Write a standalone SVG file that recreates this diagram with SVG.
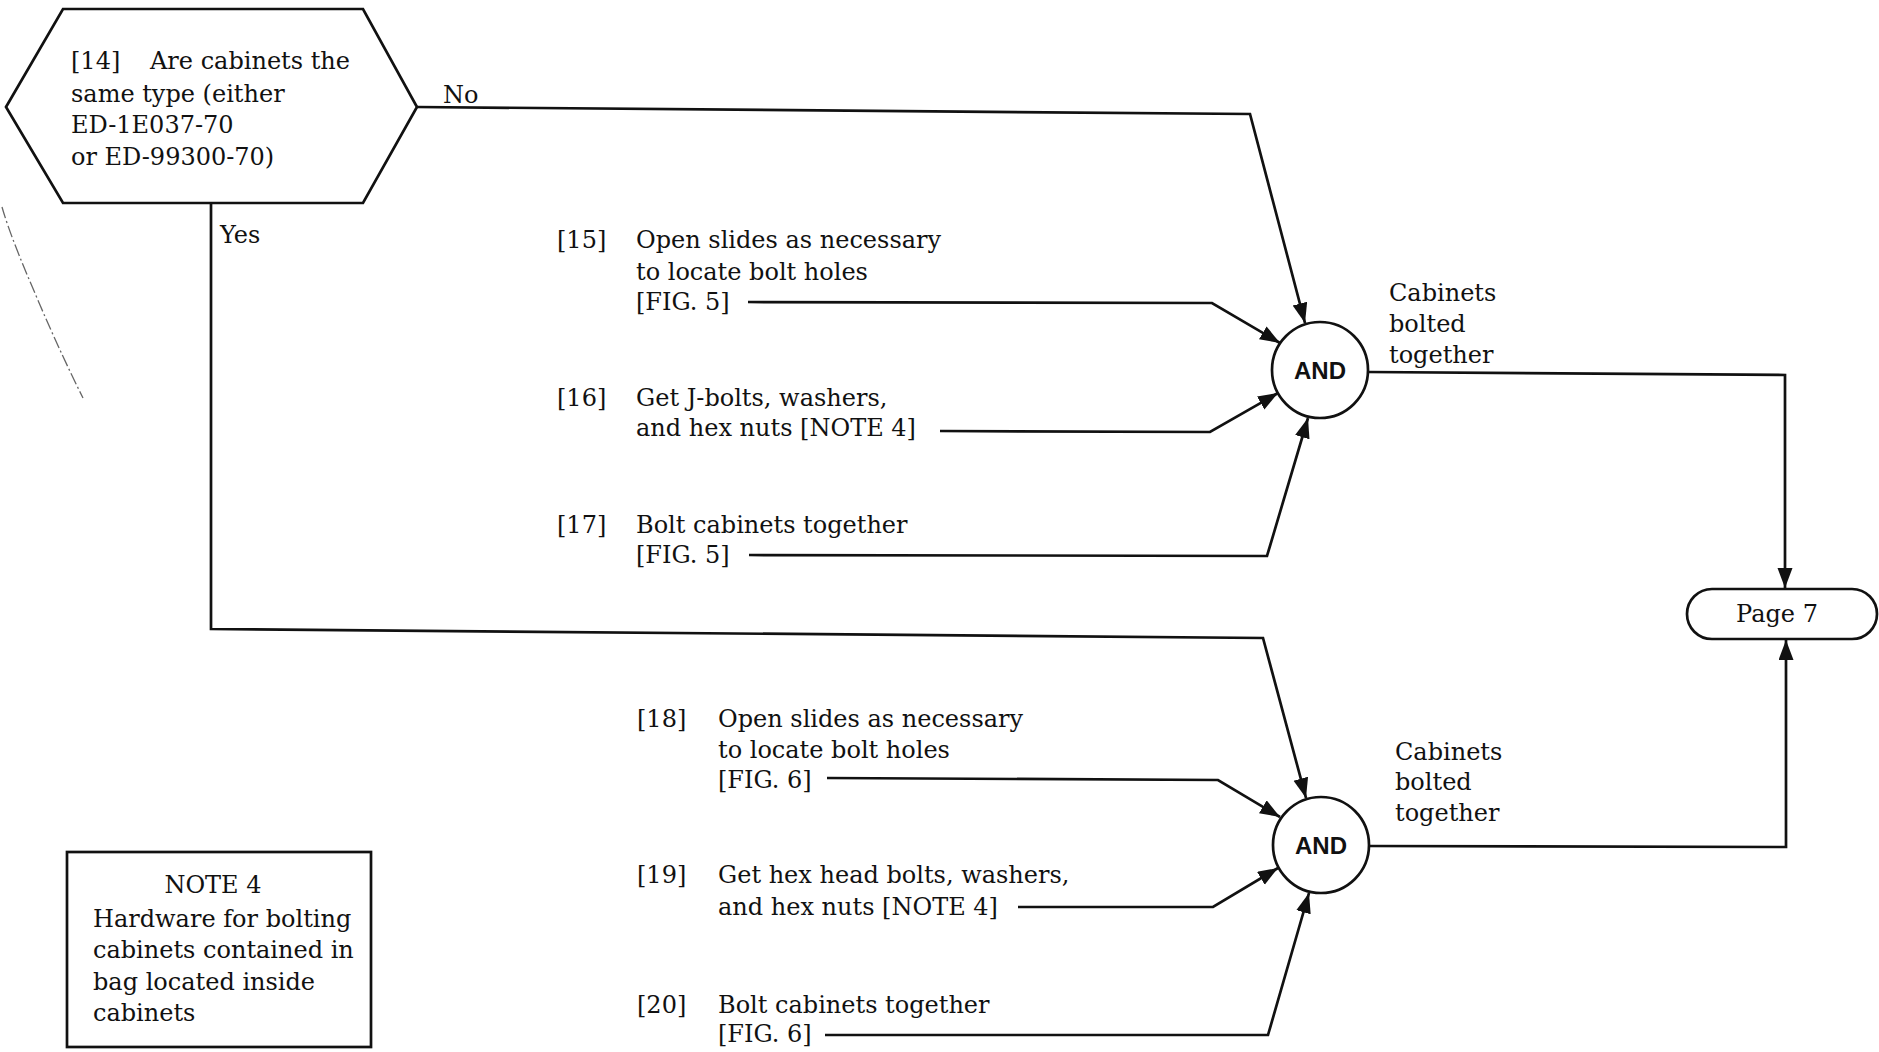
<svg xmlns="http://www.w3.org/2000/svg" width="1879" height="1052" viewBox="0 0 1879 1052">
<style>
.t{font-family:"DejaVu Serif","Liberation Serif",serif;font-size:24px;fill:#111}
.and{font-family:"Liberation Sans",Arial,sans-serif;font-weight:bold;font-size:24px;fill:#111;text-anchor:middle}
.shape{fill:#fff;stroke:#111;stroke-width:2.7}
.c{fill:none;stroke:#111;stroke-width:2.7;stroke-linejoin:miter}
</style>
<defs>
<marker id="ah" markerUnits="userSpaceOnUse" markerWidth="22" markerHeight="16" refX="20" refY="7.5" orient="auto">
<path d="M0,0 L20,7.5 L0,15 z" fill="#111"/>
</marker>
</defs>
<rect width="1879" height="1052" fill="#fff"/>
<path d="M2,207 C10,235 25,270 40,305 C55,340 70,372 83,398" fill="none" stroke="#666" stroke-width="1.3" stroke-dasharray="12,3,2,3"/>
<g id="connectors">
<path class="c" d="M417,107 L1250,114 L1305,323" marker-end="url(#ah)"/>
<path class="c" d="M211,204 L211,629 L1263,638 L1306,798" marker-end="url(#ah)"/>
<path class="c" d="M748,302 L1212,303 L1280,343" marker-end="url(#ah)"/>
<path class="c" d="M940,431 L1210,432 L1278,393" marker-end="url(#ah)"/>
<path class="c" d="M749,555 L1267,556 L1308,418" marker-end="url(#ah)"/>
<path class="c" d="M1368,372 L1785,375 L1785,588" marker-end="url(#ah)"/>
<path class="c" d="M827,778 L1218,780 L1280,817" marker-end="url(#ah)"/>
<path class="c" d="M1018,907 L1213,907 L1278,868" marker-end="url(#ah)"/>
<path class="c" d="M825,1035 L1268,1035 L1309,893" marker-end="url(#ah)"/>
<path class="c" d="M1368,846 L1786,847 L1786,640" marker-end="url(#ah)"/>
</g>
<g id="labels">
<text class="t" x="443" y="103">No</text>
<text class="t" x="220" y="243">Yes</text>
<text class="t" x="1389" y="301">Cabinets</text>
<text class="t" x="1389" y="332">bolted</text>
<text class="t" x="1389" y="363">together</text>
<text class="t" x="1395" y="760">Cabinets</text>
<text class="t" x="1395" y="790">bolted</text>
<text class="t" x="1395" y="821">together</text>
</g>
<g id="n14">
<polygon class="shape" points="6,107 63,9 363,9 417,107 363,203 63,203"/>
<text class="t" x="71" y="69">[14]</text>
<text class="t" x="150" y="69">Are cabinets the</text>
<text class="t" x="71" y="102">same type (either</text>
<text class="t" x="71" y="133">ED-1E037-70</text>
<text class="t" x="71" y="165">or ED-99300-70)</text>
</g>
<g id="n15">
<text class="t" x="557" y="248">[15]</text>
<text class="t" x="636" y="248">Open slides as necessary</text>
<text class="t" x="636" y="280">to locate bolt holes</text>
<text class="t" x="636" y="310">[FIG. 5]</text>
</g>
<g id="n16">
<text class="t" x="557" y="406">[16]</text>
<text class="t" x="636" y="406">Get J-bolts, washers,</text>
<text class="t" x="636" y="436">and hex nuts [NOTE 4]</text>
</g>
<g id="n17">
<text class="t" x="557" y="533">[17]</text>
<text class="t" x="636" y="533">Bolt cabinets together</text>
<text class="t" x="636" y="563">[FIG. 5]</text>
</g>
<g id="and1">
<circle class="shape" cx="1320" cy="370" r="48"/>
<text class="and" x="1320" y="379">AND</text>
</g>
<g id="n18">
<text class="t" x="637" y="727">[18]</text>
<text class="t" x="718" y="727">Open slides as necessary</text>
<text class="t" x="718" y="758">to locate bolt holes</text>
<text class="t" x="718" y="788">[FIG. 6]</text>
</g>
<g id="n19">
<text class="t" x="637" y="883">[19]</text>
<text class="t" x="718" y="883">Get hex head bolts, washers,</text>
<text class="t" x="718" y="915">and hex nuts [NOTE 4]</text>
</g>
<g id="n20">
<text class="t" x="637" y="1013">[20]</text>
<text class="t" x="718" y="1013">Bolt cabinets together</text>
<text class="t" x="718" y="1042">[FIG. 6]</text>
</g>
<g id="and2">
<circle class="shape" cx="1321" cy="845" r="48"/>
<text class="and" x="1321" y="854">AND</text>
</g>
<g id="page7">
<rect class="shape" x="1687" y="589" width="190" height="50" rx="25" ry="25"/>
<text class="t" x="1777" y="622" text-anchor="middle">Page 7</text>
</g>
<g id="note4">
<rect class="shape" x="67" y="852" width="304" height="195"/>
<text class="t" x="213" y="893" text-anchor="middle">NOTE 4</text>
<text class="t" x="93" y="927">Hardware for bolting</text>
<text class="t" x="93" y="958">cabinets contained in</text>
<text class="t" x="93" y="990">bag located inside</text>
<text class="t" x="93" y="1021">cabinets</text>
</g>
</svg>
